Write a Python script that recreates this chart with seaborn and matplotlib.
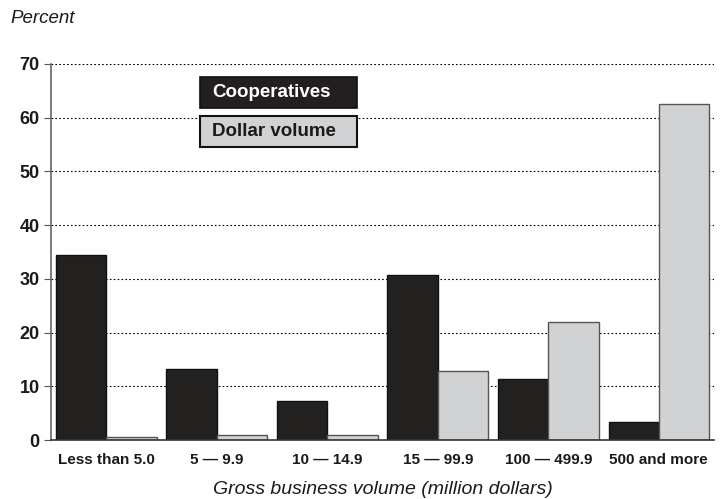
import pandas as pd
import matplotlib.pyplot as plt
import seaborn as sns
import numpy as np
from matplotlib.patches import Rectangle

# Data
categories = ["Less than 5.0", "5 \u2014 9.9", "10 \u2014 14.9", "15 \u2014 99.9",
              "100 \u2014 499.9", "500 and more"]
cooperatives = [34.4, 13.2, 7.3, 30.8, 11.4, 3.3]
dollar_volume = [0.6, 1.0, 1.0, 12.8, 22.0, 62.6]
series_names = ["Cooperatives", "Dollar volume"]
y_ticks = [0, 10, 20, 30, 40, 50, 60, 70]

df = pd.DataFrame({
    "category": categories * 2,
    "series": [series_names[0]] * 6 + [series_names[1]] * 6,
    "value": cooperatives + dollar_volume,
})

sns.set_style("white")
plt.rcParams["font.family"] = ["Liberation Sans", "DejaVu Sans"]

fig = plt.figure(figsize=(7.22, 4.99), dpi=100)
ax = fig.add_axes([0.0706, 0.118, 0.9184, 0.754])

colors = ["#231f20", "#d1d2d4"]
sns.barplot(data=df, x="category", y="value", hue="series", order=categories,
            hue_order=series_names, palette=colors, width=0.91,
            edgecolor="#222222", linewidth=1.0, ax=ax, legend=False)
for bar, c in zip(ax.patches, ["#111111"] * 6 + ["#555555"] * 6):
    bar.set_edgecolor(c)

# dotted gridlines
for y in y_ticks[1:]:
    ax.axhline(y, color="black", linestyle=(0, (1.5, 2)), linewidth=0.8, zorder=0)

ax.set_ylim(0, 70)
ax.set_xlim(-0.5, 5.5)
ax.set_yticks(y_ticks)
ax.set_yticklabels([str(v) for v in y_ticks], fontsize=13, fontweight="bold",
                   color="#1a1a1a")
ax.set_xticks(range(6))
ax.set_xticklabels(categories, fontsize=11, fontweight="bold", color="#1a1a1a")
ax.tick_params(axis="x", length=0, pad=9)
ax.set_xticks(np.arange(0.5, 6.0, 1.0), minor=True)
ax.tick_params(axis="x", which="minor", length=8, direction="inout", color="#555555")
ax.tick_params(axis="y", length=5, direction="out", color="#555555", left=True, pad=3)

for side in ["top", "right"]:
    ax.spines[side].set_visible(False)
ax.spines["left"].set_color("#666666")
ax.spines["bottom"].set_color("#333333")
ax.spines["left"].set_linewidth(1.2)
ax.spines["bottom"].set_linewidth(1.2)

ax.set_xlabel("Gross business volume (million dollars)", fontsize=14,
              fontstyle="italic", labelpad=10, color="#1a1a1a")
ax.set_ylabel("")
fig.text(0.014, 0.963, "Percent", fontsize=13.5, fontstyle="italic", va="center",
         color="#1a1a1a")

# legend boxes
ax.add_patch(Rectangle((0.85, 61.8), 1.42, 5.8, fc="#231f20", ec="#111111",
                       lw=1.2, zorder=5))
ax.add_patch(Rectangle((0.85, 54.6), 1.42, 5.7, fc="#d1d2d4", ec="#111111",
                       lw=1.5, zorder=5))
ax.text(0.955, 64.7, "Cooperatives", fontsize=13.5, fontweight="bold", color="white",
        va="center", zorder=6)
ax.text(0.955, 57.45, "Dollar volume", fontsize=13.5, fontweight="bold", color="#1a1a1a",
        va="center", zorder=6)

fig.savefig("out.png", dpi=100)
